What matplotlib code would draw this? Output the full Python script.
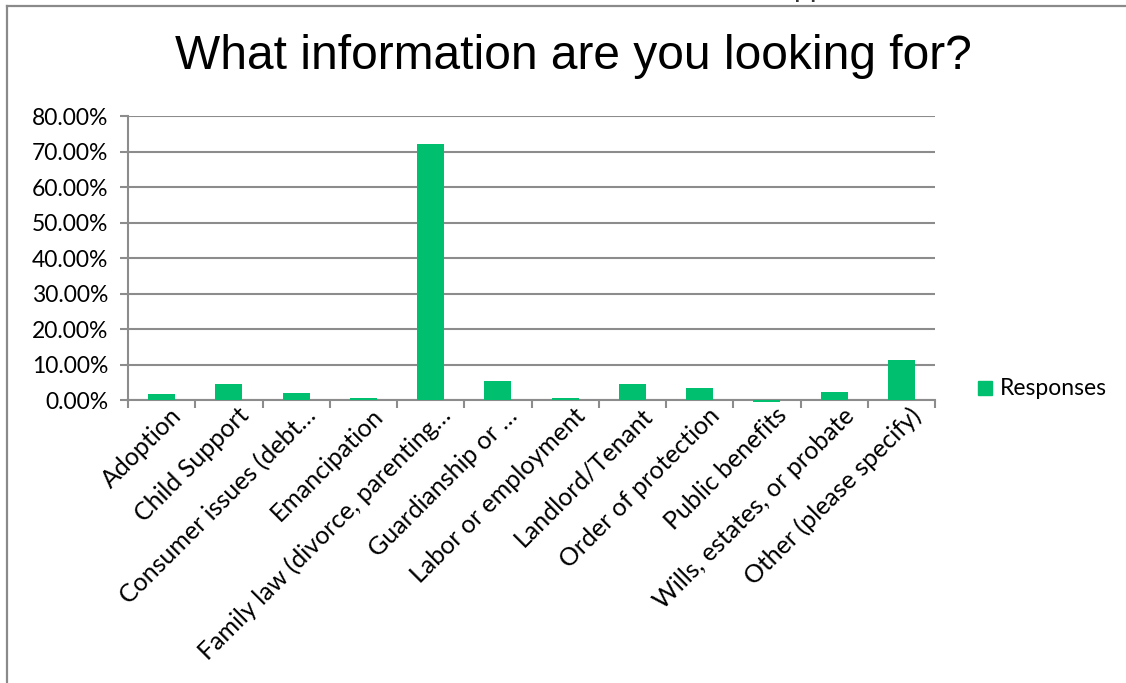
import numpy as np
import matplotlib.pyplot as plt
from matplotlib.lines import Line2D
from matplotlib.ticker import FuncFormatter, MultipleLocator
from matplotlib.transforms import ScaledTranslation

plt.rcParams['font.family'] = ['Lato', 'DejaVu Sans']

categories = ['Adoption', 'Child Support', 'Consumer issues (debt…', 'Emancipation',
              'Family law (divorce, parenting…', 'Guardianship or …', 'Labor or employment',
              'Landlord/Tenant', 'Order of protection', 'Public benefits',
              'Wills, estates, or probate', 'Other (please specify)']
responses = [0.017, 0.045, 0.021, 0.006, 0.721, 0.054, 0.007, 0.044, 0.034, -0.005, 0.023, 0.114]

green = '#00BF6F'
grid_gray = '#8C8C8C'

fig = plt.figure(figsize=(11.26, 6.83), dpi=100)

# outer chart frame (only top and left edges fall inside the image)
fig.add_artist(Line2D([0.0065, 0.0065], [0, 0.991], transform=fig.transFigure, color='#8A8A8A', lw=1.6))
fig.add_artist(Line2D([0.0065, 1.0], [0.991, 0.991], transform=fig.transFigure, color='#8A8A8A', lw=1.6))
fig.text(0.704, 1.0075, 'pp', fontsize=22, color='#333333', family='Liberation Sans', va='baseline')

ax = fig.add_axes([0.1137, 0.4143, 0.7167, 0.4157])
x = np.arange(len(categories))
ax.bar(x, responses, width=0.4, color=green, zorder=3, clip_on=False)

ax.set_xlim(-0.5, len(categories) - 0.5)
ax.set_ylim(0, 0.8)
ax.yaxis.set_major_locator(MultipleLocator(0.1))
ax.yaxis.set_major_formatter(FuncFormatter(lambda v, p: f'{v * 100:.2f}%'))
ax.grid(axis='y', color=grid_gray, lw=1.5, zorder=0)

for s in ['top', 'right']:
    ax.spines[s].set_visible(False)
for s in ['left', 'bottom']:
    ax.spines[s].set_color(grid_gray)
    ax.spines[s].set_linewidth(1.5)

ax.set_xticks(x)
ax.set_xticklabels(categories, rotation=45, ha='right', rotation_mode='anchor', fontsize=18)
ax.set_xticks(np.arange(len(categories) + 1) - 0.5, minor=True)
ax.tick_params(axis='x', which='major', length=0, pad=4)
ax.tick_params(axis='x', which='minor', length=6, width=1.5, color=grid_gray)
ax.tick_params(axis='y', length=6, width=1.5, color=grid_gray, labelsize=16.5, pad=8)

# nudge rotated labels so their ends sit just right of each category centre
shift = ScaledTranslation(0.08, 0.02, fig.dpi_scale_trans)
for lab in ax.get_xticklabels():
    lab.set_transform(lab.get_transform() + shift)

fig.text(0.509, 0.918, 'What information are you looking for?', ha='center', va='center',
         fontsize=34.5, family='Liberation Sans')

# legend
fig.patches.append(plt.Rectangle((0.8685, 0.422), 0.0125, 0.0205, transform=fig.transFigure,
                                 color=green, figure=fig))
fig.text(0.888, 0.431, 'Responses', fontsize=16.5, va='center')

fig.savefig('out.png', dpi=100)
